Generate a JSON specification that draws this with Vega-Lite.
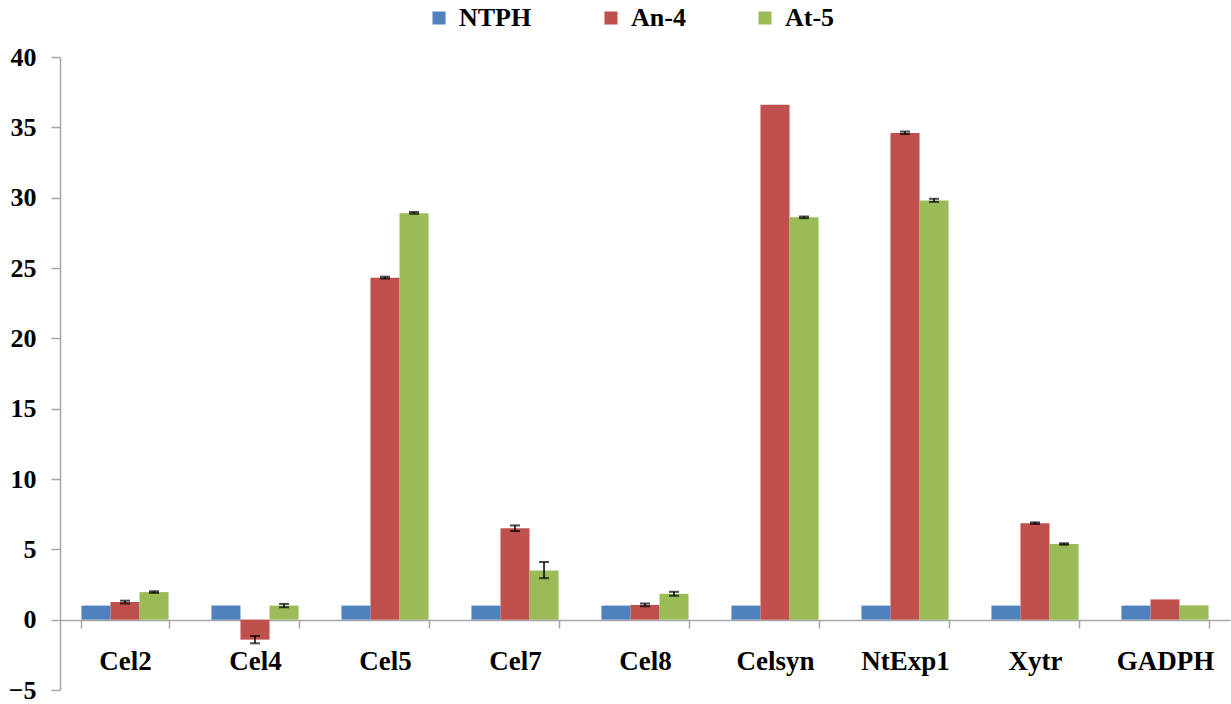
{
  "$schema": "https://vega.github.io/schema/vega-lite/v6.json",
  "autosize": "none",
  "width": 1170,
  "height": 633,
  "padding": {"left": 60, "top": 57, "right": 1, "bottom": 14},
  "background": "white",
  "config": {
    "view": {"stroke": null},
    "font": "Liberation Serif"
  },
  "data": {
    "values": [
      {"gene": "Cel2", "series": "NTPH", "value": 1, "lo": null, "hi": null},
      {"gene": "Cel2", "series": "An-4", "value": 1.25, "lo": 1.15, "hi": 1.35},
      {"gene": "Cel2", "series": "At-5", "value": 1.96, "lo": 1.9, "hi": 2.02},
      {"gene": "Cel4", "series": "NTPH", "value": 1, "lo": null, "hi": null},
      {"gene": "Cel4", "series": "An-4", "value": -1.42, "lo": -1.68, "hi": -1.16},
      {"gene": "Cel4", "series": "At-5", "value": 1.0, "lo": 0.88, "hi": 1.12},
      {"gene": "Cel5", "series": "NTPH", "value": 1, "lo": null, "hi": null},
      {"gene": "Cel5", "series": "An-4", "value": 24.3, "lo": 24.25, "hi": 24.38},
      {"gene": "Cel5", "series": "At-5", "value": 28.9, "lo": 28.85, "hi": 28.98},
      {"gene": "Cel7", "series": "NTPH", "value": 1, "lo": null, "hi": null},
      {"gene": "Cel7", "series": "An-4", "value": 6.5, "lo": 6.3, "hi": 6.7},
      {"gene": "Cel7", "series": "At-5", "value": 3.5, "lo": 2.95, "hi": 4.1},
      {"gene": "Cel8", "series": "NTPH", "value": 1, "lo": null, "hi": null},
      {"gene": "Cel8", "series": "An-4", "value": 1.05, "lo": 0.95, "hi": 1.15},
      {"gene": "Cel8", "series": "At-5", "value": 1.84, "lo": 1.7, "hi": 1.98},
      {"gene": "Celsyn", "series": "NTPH", "value": 1, "lo": null, "hi": null},
      {"gene": "Celsyn", "series": "An-4", "value": 36.6, "lo": null, "hi": null},
      {"gene": "Celsyn", "series": "At-5", "value": 28.6, "lo": 28.54, "hi": 28.66},
      {"gene": "NtExp1", "series": "NTPH", "value": 1, "lo": null, "hi": null},
      {"gene": "NtExp1", "series": "An-4", "value": 34.6, "lo": 34.52, "hi": 34.7},
      {"gene": "NtExp1", "series": "At-5", "value": 29.8, "lo": 29.7, "hi": 29.92},
      {"gene": "Xytr", "series": "NTPH", "value": 1, "lo": null, "hi": null},
      {"gene": "Xytr", "series": "An-4", "value": 6.85, "lo": 6.8, "hi": 6.92},
      {"gene": "Xytr", "series": "At-5", "value": 5.38, "lo": 5.33, "hi": 5.43},
      {"gene": "GADPH", "series": "NTPH", "value": 1, "lo": null, "hi": null},
      {"gene": "GADPH", "series": "An-4", "value": 1.44, "lo": null, "hi": null},
      {"gene": "GADPH", "series": "At-5", "value": 1.02, "lo": null, "hi": null}
    ]
  },
  "encoding": {
    "x": {
      "field": "gene",
      "type": "nominal",
      "sort": null,
      "scale": {"paddingInner": 0.33, "paddingOuter": 0.165},
      "axis": {
        "title": null,
        "labelAngle": 0,
        "offset": -70,
        "domainColor": "#a6a6a6",
        "domainWidth": 1.5,
        "tickColor": "#a6a6a6",
        "tickWidth": 1.5,
        "tickSize": 8,
        "tickBand": "extent",
        "labelPadding": 20,
        "labelFont": "Liberation Serif",
        "labelFontSize": 27,
        "labelFontWeight": "bold",
        "labelColor": "black"
      }
    },
    "xOffset": {
      "field": "series",
      "type": "nominal",
      "sort": ["NTPH", "An-4", "At-5"],
      "scale": {"paddingInner": 0, "paddingOuter": 0}
    }
  },
  "layer": [
    {
      "mark": {"type": "bar"},
      "encoding": {
        "y": {
          "field": "value",
          "type": "quantitative",
          "scale": {"domain": [-5, 40], "nice": false, "zero": false},
          "axis": {
            "title": null,
            "values": [-5, 0, 5, 10, 15, 20, 25, 30, 35, 40],
            "grid": false,
            "domainColor": "#a6a6a6",
            "domainWidth": 1.5,
            "tickColor": "#a6a6a6",
            "tickWidth": 1.5,
            "tickSize": 9,
            "labelPadding": 15,
            "labelFont": "Liberation Serif",
            "labelFontSize": 26,
            "labelFontWeight": "bold",
            "labelColor": "black"
          }
        },
        "color": {
          "field": "series",
          "type": "nominal",
          "sort": ["NTPH", "An-4", "At-5"],
          "scale": {"domain": ["NTPH", "An-4", "At-5"], "range": ["#4F81BD", "#C0504D", "#9BBB59"]},
          "legend": {
            "title": null,
            "orient": "none",
            "direction": "horizontal",
            "legendX": 366,
            "legendY": -52,
            "symbolType": "square",
            "symbolSize": 170,
            "symbolStrokeWidth": 0,
            "columnPadding": 66,
            "labelFont": "Liberation Serif",
            "labelFontSize": 26,
            "labelFontWeight": "bold",
            "labelColor": "black",
            "labelOffset": 7
          }
        }
      }
    },
    {
      "transform": [{"filter": "datum.lo != null"}],
      "mark": {"type": "rule", "color": "black", "strokeWidth": 1.5},
      "encoding": {
        "y": {"field": "lo", "type": "quantitative"},
        "y2": {"field": "hi"}
      }
    },
    {
      "transform": [{"filter": "datum.lo != null"}],
      "mark": {"type": "tick", "color": "black", "size": 10, "thickness": 2},
      "encoding": {
        "y": {"field": "lo", "type": "quantitative"}
      }
    },
    {
      "transform": [{"filter": "datum.lo != null"}],
      "mark": {"type": "tick", "color": "black", "size": 10, "thickness": 2},
      "encoding": {
        "y": {"field": "hi", "type": "quantitative"}
      }
    }
  ]
}
